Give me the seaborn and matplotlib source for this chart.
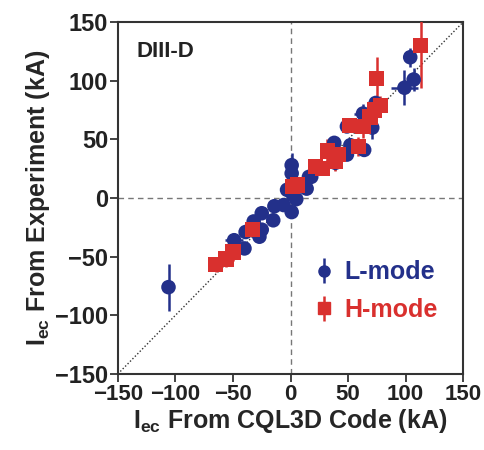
import numpy as np
import pandas as pd
import seaborn as sns
import matplotlib
matplotlib.use("Agg")
import matplotlib.pyplot as plt

# L-mode shots: CQL3D vs experiment (kA)
l_x = [-106, -49, -40, -39, -32, -27, -25, -25, -15, -14, -6, -3, 1, 1, 1, 2, 5,
       11, 14, 16, 18, 38, 39, 49, 49, 52, 64, 63, 71, 74, 99, 104, 107]
l_y = [-76, -36, -43, -29, -20, -33, -13, -27, -19, -7, -6, 7, -12, 21, 28, 3, -1,
       10, 8, 18, 18, 47, 30, 37, 61, 45, 41, 72, 60, 81, 94, 120, 101]
l_xerr = [0, 8, 0, 0, 0, 0, 0, 0, 0, 0, 0, 0, 0, 0, 0, 0, 0,
          0, 0, 0, 0, 0, 0, 0, 0, 0, 0, 8, 0, 0, 12, 0, 6]
l_yerr = [20, 0, 0, 0, 0, 4, 0, 0, 0, 4, 0, 0, 0, 0, 10, 0, 0,
          0, 0, 0, 0, 6, 6, 0, 0, 0, 0, 8, 10, 0, 15, 8, 10]

# H-mode shots
h_x = [-65, -56, -50, -33, 2, 6, 22, 28, 32, 42, 39, 51, 63, 59, 69, 73, 78, 75, 113]
h_y = [-57, -52, -46, -27, 10, 11, 27, 25, 40, 37, 31, 62, 61, 44, 69, 75, 79, 102, 130]
h_yerr_lo = [6, 7, 8, 6, 6, 0, 6, 0, 10, 8, 8, 4, 10, 8, 10, 8, 8, 18, 36]
h_yerr_hi = [6, 7, 8, 6, 6, 0, 6, 0, 10, 8, 8, 4, 10, 8, 10, 8, 8, 18, 22]

ticks = [-150, -100, -50, 0, 50, 100, 150]
tick_labels = ["\u2212150", "\u2212100", "\u221250", "0", "50", "100", "150"]

blue = "#23308a"
red = "#d9302e"

sns.set_style("ticks")
plt.rcParams['font.family'] = ['Liberation Sans', 'DejaVu Sans']
plt.rcParams['font.weight'] = 'bold'
plt.rcParams['mathtext.fontset'] = 'custom'
plt.rcParams['mathtext.rm'] = 'Liberation Sans:bold'
plt.rcParams['mathtext.it'] = 'Liberation Sans:bold'
plt.rcParams['mathtext.bf'] = 'Liberation Sans:bold'

fig = plt.figure(figsize=(4.85, 4.5), dpi=100)
ax = fig.add_axes([0.243, 0.169, 0.712, 0.782])

ax.axhline(0, color="#777777", ls=(0, (4, 3)), lw=1.0, zorder=1)
ax.axvline(0, color="#777777", ls=(0, (4, 3)), lw=1.0, zorder=1)
ax.plot([-150, 150], [-150, 150], color="#333333", ls=(0, (1, 1.5)), lw=1.0, zorder=1)

ax.errorbar(l_x, l_y, xerr=l_xerr, yerr=l_yerr, fmt="none", ecolor=blue, elinewidth=1.8, zorder=2)
ax.errorbar(h_x, h_y, yerr=[h_yerr_lo, h_yerr_hi], fmt="none", ecolor=red, elinewidth=1.8, zorder=3)

ldf = pd.DataFrame({"x": l_x, "y": l_y})
hdf = pd.DataFrame({"x": h_x, "y": h_y})
sns.scatterplot(data=ldf, x="x", y="y", ax=ax, color=blue, marker="o", s=110,
                edgecolor="none", zorder=4)
sns.scatterplot(data=hdf, x="x", y="y", ax=ax, color=red, marker="s", s=120,
                edgecolor="none", zorder=5)

lh = ax.errorbar([], [], yerr=[], fmt="o", color=blue, ms=8, elinewidth=1.8)
hh = ax.errorbar([], [], yerr=[], fmt="s", color=red, ms=8, elinewidth=1.8)
leg = ax.legend([lh, hh], ["L-mode", "H-mode"], loc="center left", bbox_to_anchor=(0.51, 0.235),
                frameon=False, handlelength=0.6, handletextpad=0.5,
                labelspacing=0.55, prop={"weight": "bold", "size": 18})
for txt, c in zip(leg.get_texts(), [blue, red]):
    txt.set_color(c)

ax.text(0.055, 0.945, "DIII-D", transform=ax.transAxes, fontsize=16, fontweight="bold",
        va="top", ha="left", color="#222222")

ax.set_xlim(-150, 150)
ax.set_ylim(-150, 150)
ax.set_xticks(ticks)
ax.set_yticks(ticks)
ax.set_xticklabels(tick_labels, fontsize=16, fontweight="bold")
ax.set_yticklabels(tick_labels, fontsize=17, fontweight="bold")
ax.tick_params(direction="out", length=6, width=1.2, pad=1, colors="#222222")
for sp in ax.spines.values():
    sp.set_linewidth(1.5)
    sp.set_color("#333333")
    sp.set_visible(True)

ax.set_xlabel(r"I$_{\mathregular{ec}}$ From CQL3D Code (kA)", fontsize=18, fontweight="bold", labelpad=2)
ax.set_ylabel(r"I$_{\mathregular{ec}}$ From Experiment (kA)", fontsize=18, fontweight="bold", labelpad=2)

fig.savefig("out.png", dpi=100)
